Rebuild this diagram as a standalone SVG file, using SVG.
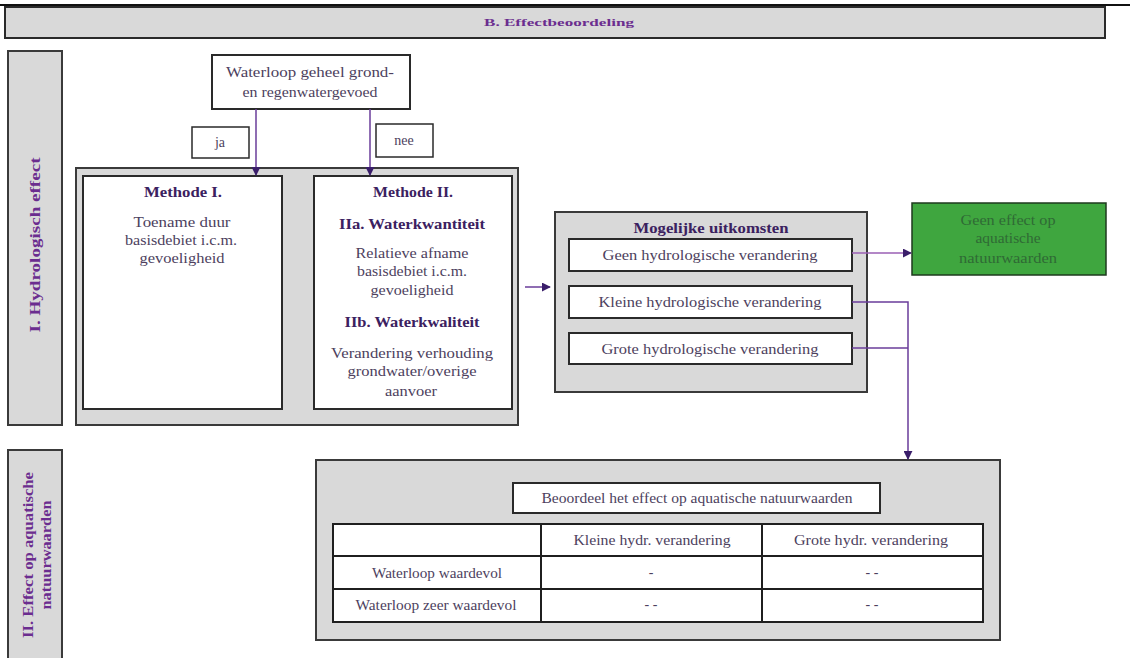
<svg xmlns="http://www.w3.org/2000/svg" width="1130" height="658" viewBox="0 0 1130 658">
  <defs>
    <style>
      .t { font-family: "Liberation Serif", "Times New Roman", serif; font-size: 14px; fill: #4d3f5e; text-anchor: middle; }
      .b { font-weight: bold; fill: #3b2160; }
      .h { font-family: "Liberation Serif", "Times New Roman", serif; font-size: 11px; font-weight: bold; fill: #6b2d8f; text-anchor: middle; }
      .side { fill: #d9d9d9; stroke: #3a3a3a; stroke-width: 2; }
      .panel { fill: #d9d9d9; stroke: #3a3a3a; stroke-width: 2; }
      .box { fill: #ffffff; stroke: #2a2a2a; stroke-width: 2; }
      .thin { fill: #ffffff; stroke: #2a2a2a; stroke-width: 1.5; }
      .edge { fill: none; stroke: #6a3d9a; stroke-width: 1.5; }
      .edge2 { fill: none; stroke: #9a5fb5; stroke-width: 1.5; }
      .grid { stroke: #1f1f1f; stroke-width: 2; fill: none; }
    </style>
    <marker id="arr" viewBox="0 0 10 10" refX="9" refY="5" markerWidth="6" markerHeight="6" orient="auto">
      <path d="M0,0 L10,5 L0,10 z" fill="#3a1e6a"/>
    </marker>
  </defs>

  <rect width="1130" height="658" fill="#ffffff"/>

  <!-- top rule and title bar -->
  <line x1="0" y1="5" x2="1130" y2="5" stroke="#111" stroke-width="2"/>
  <g id="header">
    <rect x="5" y="7" width="1100" height="31" fill="#d9d9d9" stroke="#2a2a2a" stroke-width="2"/>
    <text class="h" x="559" y="26" textLength="150" lengthAdjust="spacingAndGlyphs">B. Effectbeoordeling</text>
  </g>

  <!-- side bands -->
  <g id="band-hydro">
    <rect class="side" x="8" y="51" width="54" height="374"/>
    <text class="t b" transform="translate(40,245) rotate(-90)" textLength="175" lengthAdjust="spacingAndGlyphs" style="fill:#6b2d8f">I. Hydrologisch effect</text>
  </g>
  <g id="band-aqua">
    <rect class="side" x="8" y="450" width="54" height="212"/>
    <text class="t b" transform="translate(33,555) rotate(-90)" textLength="166" lengthAdjust="spacingAndGlyphs" style="fill:#6b2d8f">II. Effect op aquatische</text>
    <text class="t b" transform="translate(51,555) rotate(-90)" textLength="109" lengthAdjust="spacingAndGlyphs" style="fill:#6b2d8f">natuurwaarden</text>
  </g>

  <!-- decision -->
  <g id="decision">
    <rect class="box" x="212" y="55" width="198" height="54"/>
    <text class="t" x="310" y="77" textLength="168" lengthAdjust="spacingAndGlyphs">Waterloop geheel grond-</text>
    <text class="t" x="310" y="97" textLength="135" lengthAdjust="spacingAndGlyphs">en regenwatergevoed</text>
  </g>
  <g id="label-ja">
    <rect class="thin" x="192" y="127" width="57" height="31"/>
    <text class="t" x="220" y="147">ja</text>
  </g>
  <g id="label-nee">
    <rect class="thin" x="376" y="124" width="57" height="33"/>
    <text class="t" x="404" y="145">nee</text>
  </g>

  <!-- methods -->
  <g id="methods">
    <rect class="panel" x="76" y="168" width="442" height="257"/>
  </g>
  <g id="methode-1">
    <rect class="box" x="83" y="176" width="199" height="233"/>
    <text class="t b" x="183" y="197" textLength="78" lengthAdjust="spacingAndGlyphs">Methode I.</text>
    <text class="t" x="182" y="227" textLength="97" lengthAdjust="spacingAndGlyphs">Toename duur</text>
    <text class="t" x="181" y="245" textLength="112" lengthAdjust="spacingAndGlyphs">basisdebiet i.c.m.</text>
    <text class="t" x="182" y="263" textLength="85" lengthAdjust="spacingAndGlyphs">gevoeligheid</text>
  </g>
  <g id="methode-2">
    <rect class="box" x="314" y="176" width="198" height="233"/>
    <text class="t b" x="413" y="197" textLength="80" lengthAdjust="spacingAndGlyphs">Methode II.</text>
    <text class="t b" x="412" y="229" textLength="146" lengthAdjust="spacingAndGlyphs">IIa. Waterkwantiteit</text>
    <text class="t" x="412" y="258" textLength="113" lengthAdjust="spacingAndGlyphs">Relatieve afname</text>
    <text class="t" x="412" y="276" textLength="110" lengthAdjust="spacingAndGlyphs">basisdebiet i.c.m.</text>
    <text class="t" x="412" y="295" textLength="83" lengthAdjust="spacingAndGlyphs">gevoeligheid</text>
    <text class="t b" x="412" y="327" textLength="135" lengthAdjust="spacingAndGlyphs">IIb. Waterkwaliteit</text>
    <text class="t" x="412" y="358" textLength="162" lengthAdjust="spacingAndGlyphs">Verandering verhouding</text>
    <text class="t" x="412" y="376" textLength="129" lengthAdjust="spacingAndGlyphs">grondwater/overige</text>
    <text class="t" x="411" y="396" textLength="52" lengthAdjust="spacingAndGlyphs">aanvoer</text>
  </g>

  <!-- outcomes -->
  <g id="uitkomsten">
    <rect class="panel" x="555" y="212" width="312" height="180"/>
    <text class="t b" x="711" y="233" textLength="155" lengthAdjust="spacingAndGlyphs">Mogelijke uitkomsten</text>
  </g>
  <g id="geen">
    <rect class="box" x="569" y="239" width="283" height="32"/>
    <text class="t" x="710" y="260" textLength="215" lengthAdjust="spacingAndGlyphs">Geen hydrologische verandering</text>
  </g>
  <g id="kleine">
    <rect class="box" x="569" y="286" width="283" height="32"/>
    <text class="t" x="710" y="307" textLength="223" lengthAdjust="spacingAndGlyphs">Kleine hydrologische verandering</text>
  </g>
  <g id="grote">
    <rect class="box" x="569" y="333" width="283" height="31"/>
    <text class="t" x="710" y="354" textLength="217" lengthAdjust="spacingAndGlyphs">Grote hydrologische verandering</text>
  </g>

  <g id="geen-effect">
    <rect x="912" y="203" width="194" height="72" fill="#3fa63f" stroke="#1e3a1e" stroke-width="1.5"/>
    <text class="t" x="1008" y="225" textLength="95" lengthAdjust="spacingAndGlyphs" style="fill:#2f6a35">Geen effect op</text>
    <text class="t" x="1008" y="243" textLength="65" lengthAdjust="spacingAndGlyphs" style="fill:#2f6a35">aquatische</text>
    <text class="t" x="1008" y="263" textLength="98" lengthAdjust="spacingAndGlyphs" style="fill:#2f6a35">natuurwaarden</text>
  </g>

  <!-- assessment -->
  <g id="beoordeling">
    <rect class="panel" x="316" y="460" width="684" height="180"/>
    <rect class="box" x="513" y="483" width="367" height="30"/>
    <text class="t" x="697" y="503" textLength="311" lengthAdjust="spacingAndGlyphs">Beoordeel het effect op aquatische natuurwaarden</text>
  </g>
  <g id="tabel">
    <rect x="333" y="524" width="650" height="98" fill="#ffffff"/>
    <path class="grid" d="M333,524 H983 V622 H333 Z M333,556 H983 M333,589 H983 M541,524 V622 M762,524 V622"/>
    <text class="t" x="652" y="545" textLength="157" lengthAdjust="spacingAndGlyphs">Kleine hydr. verandering</text>
    <text class="t" x="871" y="545" textLength="154" lengthAdjust="spacingAndGlyphs">Grote hydr. verandering</text>
    <text class="t" x="437" y="578" textLength="130" lengthAdjust="spacingAndGlyphs">Waterloop waardevol</text>
    <text class="t" x="436" y="610" textLength="161" lengthAdjust="spacingAndGlyphs">Waterloop zeer waardevol</text>
    <text class="t" x="651" y="577">-</text>
    <text class="t" x="872" y="577">- -</text>
    <text class="t" x="651" y="609">- -</text>
    <text class="t" x="872" y="609">- -</text>
  </g>

  <!-- connectors -->
  <g id="connectors">
    <line class="edge" x1="256" y1="109" x2="256" y2="175" marker-end="url(#arr)"/>
    <line class="edge" x1="370" y1="109" x2="370" y2="175" marker-end="url(#arr)"/>
    <line class="edge" x1="525" y1="287" x2="550" y2="287" stroke="#3a2a5a" marker-end="url(#arr)"/>
    <line class="edge2" x1="852" y1="253" x2="911" y2="253" marker-end="url(#arr)"/>
    <path class="edge" d="M852,302 H908 V459" marker-end="url(#arr)"/>
    <path class="edge" d="M852,348 H908"/>
  </g>
</svg>
